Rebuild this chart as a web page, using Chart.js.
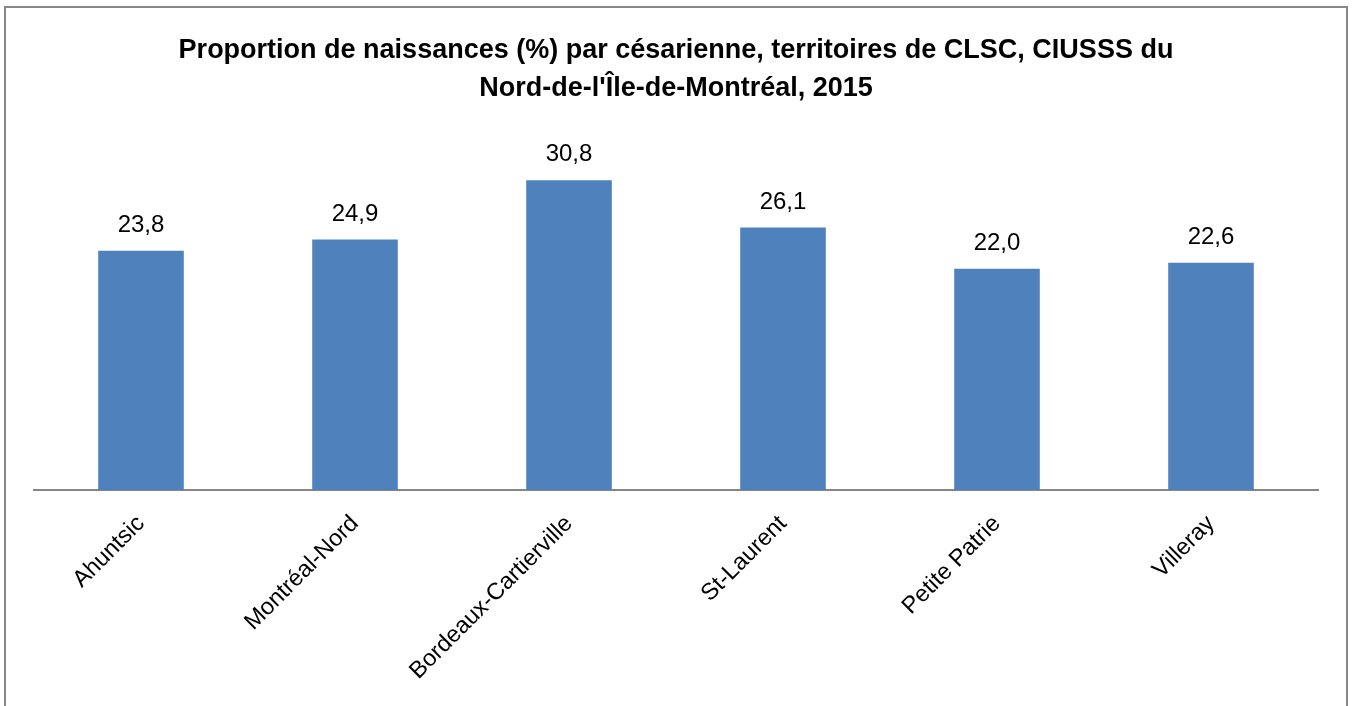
<!DOCTYPE html>
<html>
<head>
<meta charset="utf-8">
<script src="https://cdn.jsdelivr.net/npm/chart.js@4"></script>
<style>
  html, body { margin: 0; padding: 0; background: #ffffff; overflow: hidden; }
  #wrap { position: absolute; left: 0; top: 0; width: 1353px; height: 706px; }
</style>
</head>
<body>
<div id="wrap"><canvas id="c" width="1353" height="706"></canvas></div>
<script>
const categories = ["Ahuntsic", "Montréal-Nord", "Bordeaux-Cartierville", "St-Laurent", "Petite Patrie", "Villeray"];
const values = [23.8, 24.9, 30.8, 26.1, 22.0, 22.6];
const titleLines = [
  "Proportion de naissances (%) par césarienne, territoires de CLSC, CIUSSS du",
  "Nord-de-l'Île-de-Montréal, 2015"
];

const frame = {
  id: 'frame',
  beforeDraw(chart) {
    const ctx = chart.ctx;
    ctx.save();
    ctx.fillStyle = '#ffffff';
    ctx.fillRect(0, 0, chart.width, chart.height);
    ctx.strokeStyle = '#888888';
    ctx.lineWidth = 2;
    ctx.strokeRect(5, 7, 1342, 730);
    ctx.restore();
  }
};

const valueLabels = {
  id: 'valueLabels',
  afterDatasetsDraw(chart) {
    const ctx = chart.ctx;
    const meta = chart.getDatasetMeta(0);
    ctx.save();
    ctx.font = '24px "Liberation Sans", Arial, sans-serif';
    ctx.fillStyle = '#000000';
    ctx.textAlign = 'center';
    ctx.textBaseline = 'alphabetic';
    meta.data.forEach((bar, i) => {
      const txt = values[i].toFixed(1).replace('.', ',');
      ctx.fillText(txt, bar.x, bar.y - 19);
    });
    ctx.restore();
  }
};

new Chart(document.getElementById('c'), {
  type: 'bar',
  data: {
    labels: categories,
    datasets: [{
      data: values,
      backgroundColor: '#4F81BD',
      borderWidth: 0,
      barPercentage: 0.4,
      categoryPercentage: 1.0
    }]
  },
  options: {
    responsive: false,
    animation: false,
    layout: { padding: { left: 34, right: 35, top: 0, bottom: 0 } },
    plugins: {
      legend: { display: false },
      tooltip: { enabled: false },
      title: {
        display: true,
        text: titleLines,
        color: '#000000',
        font: { family: '"Liberation Sans", Arial, sans-serif', size: 27, weight: 'bold', lineHeight: 38 / 27 },
        padding: { top: 32, bottom: 30 }
      }
    },
    scales: {
      x: {
        grid: { display: false, drawTicks: false },
        border: { display: true, color: '#868686', width: 2 },
        ticks: {
          color: '#000000',
          font: { family: '"Liberation Sans", Arial, sans-serif', size: 23.5 },
          minRotation: 45,
          maxRotation: 45,
          padding: 20
        },
        afterFit(scale) { scale.height = 216; }
      },
      y: {
        display: false,
        min: 0,
        max: 35
      }
    }
  },
  plugins: [frame, valueLabels]
});
</script>
</body>
</html>
